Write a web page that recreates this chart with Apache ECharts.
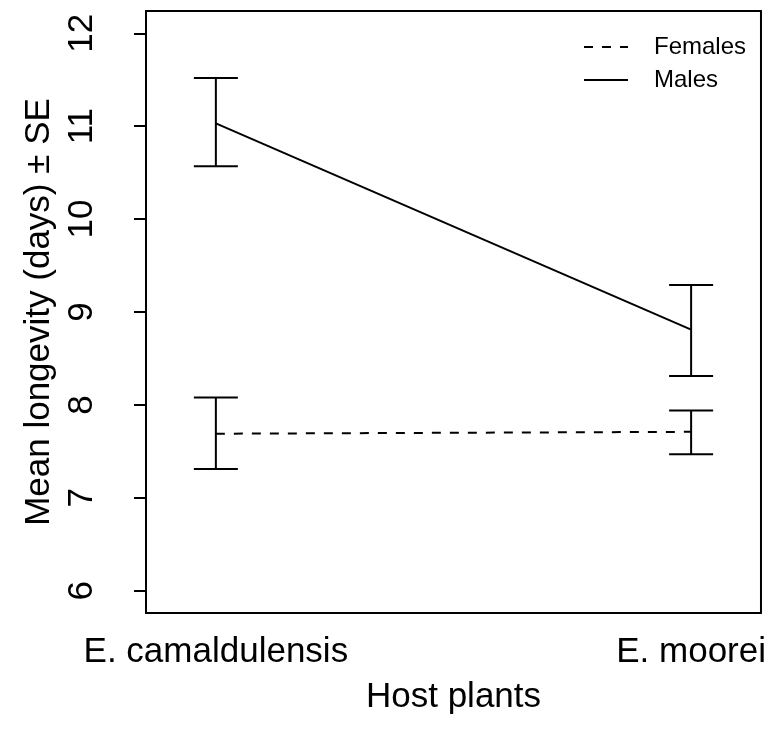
<!DOCTYPE html>
<html>
<head>
<meta charset="utf-8">
<script src="https://cdn.jsdelivr.net/npm/echarts@6/dist/echarts.min.js"></script>
<style>
  html, body { margin: 0; padding: 0; background: #fff; }
  #chart { width: 769px; height: 740px; }
</style>
</head>
<body>
<div id="chart"></div>
<script>
// Host plant categories (placed at x = 1, 2)
const hosts = ['E. camaldulensis', 'E. moorei'];
const hostPos = [1, 2];

// Mean longevity (days) and mean ± SE bounds
const femaleMean  = [7.69, 7.71];
const femaleUpper = [8.08, 7.94];
const femaleLower = [7.31, 7.47];

const maleMean  = [11.03, 8.81];
const maleUpper = [11.52, 9.29];
const maleLower = [10.57, 8.31];

// Y-axis tick values
const yTicks = [6, 7, 8, 9, 10, 11, 12];

const FONT = 'Liberation Sans, Arial, Helvetica, sans-serif';

function pairs(xs, ys) { return xs.map((x, i) => [x, ys[i]]); }
function bars(xs, lo, hi) { return xs.map((x, i) => [x, lo[i], hi[i]]); }

// Error bar with flat caps: vertical stem from lower to upper bound
function renderErrorBar(params, api) {
  const x = api.value(0);
  const pLo = api.coord([x, api.value(1)]);
  const pHi = api.coord([x, api.value(2)]);
  const half = 22;
  const style = { stroke: '#000', lineWidth: 2 };
  return {
    type: 'group',
    children: [
      { type: 'line', shape: { x1: pLo[0], y1: pLo[1], x2: pHi[0], y2: pHi[1] }, style },
      { type: 'line', shape: { x1: pHi[0] - half, y1: pHi[1], x2: pHi[0] + half, y2: pHi[1] }, style },
      { type: 'line', shape: { x1: pLo[0] - half, y1: pLo[1], x2: pLo[0] + half, y2: pLo[1] }, style }
    ]
  };
}

const chart = echarts.init(document.getElementById('chart'), null, { renderer: 'canvas' });

chart.setOption({
  backgroundColor: '#fff',
  animation: false,
  textStyle: { fontFamily: FONT, color: '#000' },
  grid: {
    left: 146, right: 4, top: 11, bottom: 127,
    show: true, borderColor: '#000', borderWidth: 2, backgroundColor: 'transparent'
  },
  legend: {
    data: ['Females', 'Males'],
    orient: 'vertical',
    left: 578,
    top: 30,
    itemWidth: 44,
    itemHeight: 14,
    itemGap: 9,
    itemStyle: { opacity: 0 },
    textStyle: { fontFamily: FONT, fontSize: 24, color: '#000', padding: [0, 0, 0, 21] }
  },
  xAxis: {
    type: 'value',
    min: 0.853,
    max: 2.147,
    axisLine: { show: false },
    axisTick: { show: false },
    splitLine: { show: false },
    axisLabel: {
      customValues: hostPos,
      formatter: v => hosts[Math.round(v) - 1],
      fontFamily: FONT,
      fontSize: 35,
      color: '#000',
      margin: 22
    },
    name: 'Host plants',
    nameLocation: 'middle',
    nameGap: 67,
    nameTextStyle: { fontFamily: FONT, fontSize: 35, color: '#000' }
  },
  yAxis: {
    type: 'value',
    min: 5.76,
    max: 12.24,
    axisLine: { show: false },
    splitLine: { show: false },
    axisTick: {
      show: true,
      customValues: yTicks,
      length: 12,
      lineStyle: { color: '#000', width: 2 }
    },
    axisLabel: {
      customValues: yTicks,
      rotate: 90,
      fontFamily: FONT,
      fontSize: 35,
      color: '#000',
      margin: 46
    },
    name: 'Mean longevity (days) ± SE',
    nameLocation: 'middle',
    nameRotate: 90,
    nameGap: 87,
    nameTextStyle: { fontFamily: FONT, fontSize: 35, color: '#000' }
  },
  series: [
    {
      name: 'Females',
      type: 'line',
      data: pairs(hostPos, femaleMean),
      symbol: 'none',
      color: '#000',
      lineStyle: { color: '#000', width: 2, type: [9, 9] },
      z: 3
    },
    {
      name: 'Males',
      type: 'line',
      data: pairs(hostPos, maleMean),
      symbol: 'none',
      color: '#000',
      lineStyle: { color: '#000', width: 2, type: 'solid' },
      z: 3
    },
    {
      name: 'Females SE',
      type: 'custom',
      renderItem: renderErrorBar,
      data: bars(hostPos, femaleLower, femaleUpper),
      encode: { x: 0, y: [1, 2] },
      z: 4
    },
    {
      name: 'Males SE',
      type: 'custom',
      renderItem: renderErrorBar,
      data: bars(hostPos, maleLower, maleUpper),
      encode: { x: 0, y: [1, 2] },
      z: 4
    }
  ]
});
</script>
</body>
</html>
